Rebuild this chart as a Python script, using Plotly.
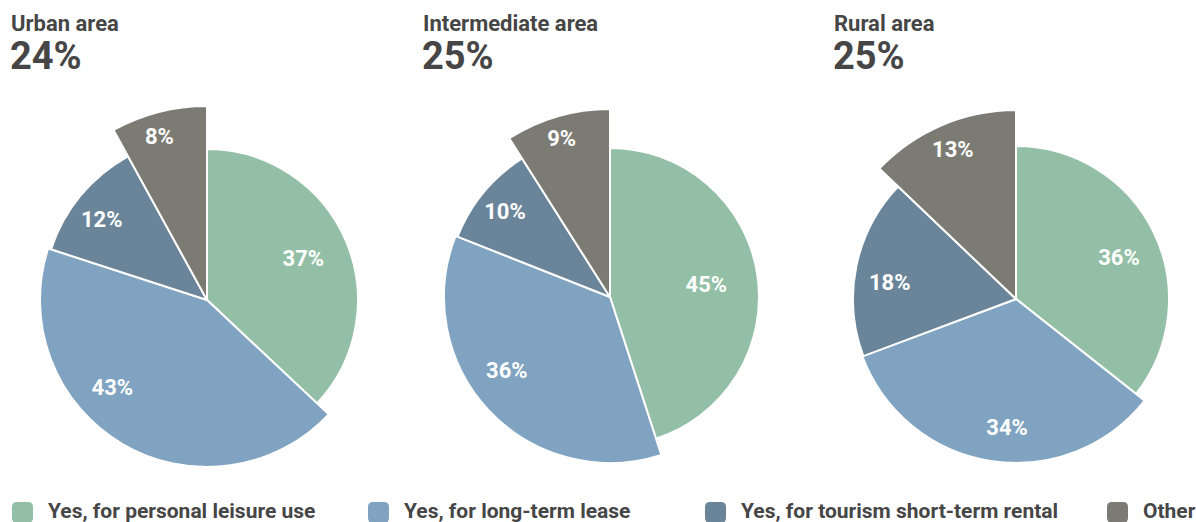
import plotly.graph_objects as go

# ---- data -------------------------------------------------------------
areas = ["Urban area", "Intermediate area", "Rural area"]
area_totals = ["24%", "25%", "25%"]
categories = [
    "Yes, for personal leisure use",
    "Yes, for long-term lease",
    "Yes, for tourism short-term rental",
    "Other",
]
urban = [37, 43, 12, 8]
intermediate = [45, 36, 10, 9]
rural = [36, 34, 18, 13]

# ---- styling ----------------------------------------------------------
colors = ["#93bfa6", "#7fa3c1", "#6a8499", "#7b7b73"]
# outer reach of each wedge (radial units == pixels here)
reach = {
    "Urban area": [151, 167, 164, 194],
    "Intermediate area": [149, 166, 164, 188],
    "Rural area": [153, 164, 163, 189],
}
# label placement: (angle offset in degrees, fraction of wedge reach)
label_pos = {
    "Urban area": [(1, 0.69), (16, 0.78), (-3, 0.80), (-2, 0.87)],
    "Intermediate area": [(3, 0.65), (7, 0.77), (-1, 0.82), (-1, 0.87)],
    "Rural area": [(5, 0.72), (-5, 0.80), (-5, 0.78), (0, 0.85)],
}
FONT = "Roboto"
DARK = "#464646"
W, H = 1196, 522
R_MAIN = 180                    # px radius of the full-circle frames
R_TOP = 200                     # px radius of the upper-left quadrant frames
centers = [(207, 300), (610, 297), (1016, 299)]   # px, from top-left
title_x = [9, 421, 832]

fig = go.Figure()
shares_all = [urban, intermediate, rural]


def axis_style():
    return dict(
        bgcolor="rgba(0,0,0,0)",
        angularaxis=dict(visible=False, direction="clockwise", rotation=90,
                         thetaunit="degrees"),
    )


n = 0
for i, (area, shares) in enumerate(zip(areas, shares_all)):
    main = "polar" if n == 0 else f"polar{n + 1}"
    top = f"polar{n + 2}"
    n += 2
    total = sum(shares)
    start = 0.0
    mids, widths = [], []
    for s in shares:
        w = 360.0 * s / total
        mids.append(start + w / 2)
        widths.append(w)
        start += w
    for k, cat in enumerate(categories):
        sub = top if k == 3 else main
        fig.add_trace(go.Barpolar(
            r=[reach[area][k]], theta=[mids[k]], width=[widths[k]],
            marker=dict(color=colors[k], line=dict(color="white", width=2)),
            name=cat, showlegend=False, subplot=sub,
            hovertemplate=f"{area}<br>{cat}: {shares[k]}%<extra></extra>",
        ))
        dth, frac = label_pos[area][k]
        fig.add_trace(go.Scatterpolar(
            r=[reach[area][k] * frac], theta=[mids[k] + dth], mode="text",
            text=[f"{shares[k]}%"],
            textfont=dict(family=FONT, size=22, color="white", weight="bold"),
            cliponaxis=False, showlegend=False, hoverinfo="skip", subplot=sub,
        ))

    cx, cy = centers[i]
    fig.update_layout({main: dict(
        domain=dict(x=[(cx - R_MAIN) / W, min(cx + R_MAIN, W) / W],
                    y=[(H - cy - R_MAIN) / H, (H - cy + R_MAIN) / H]),
        radialaxis=dict(range=[0, R_MAIN], visible=False),
        **axis_style(),
    )})
    # upper-left quadrant frame with a longer reach for the "Other" wedge
    fig.update_layout({top: dict(
        domain=dict(x=[(cx - R_TOP) / W, cx / W],
                    y=[(H - cy) / H, (H - cy + R_TOP) / H]),
        sector=[90, 180],
        radialaxis=dict(range=[0, R_TOP], visible=False),
        **axis_style(),
    )})

    fig.add_annotation(x=title_x[i] / W, y=1 - 9 / H, xref="paper", yref="paper",
                       xanchor="left", yanchor="top", showarrow=False,
                       text=f"<b>{area}</b>",
                       font=dict(family=FONT, size=22, color=DARK))
    fig.add_annotation(x=(title_x[i] - 1) / W, y=1 - 32 / H, xref="paper", yref="paper",
                       xanchor="left", yanchor="top", showarrow=False,
                       text=f"<b>{area_totals[i]}</b>",
                       font=dict(family=FONT, size=38, color=DARK))


# ---- legend drawn as rounded swatches + labels ------------------------
def rounded_rect(x0, y0, x1, y1, rad):
    """SVG path of a rounded rectangle in paper units (px given)."""
    px = lambda v: v / W
    py = lambda v: (H - v) / H
    return (
        f"M{px(x0 + rad)},{py(y0)} L{px(x1 - rad)},{py(y0)} "
        f"Q{px(x1)},{py(y0)} {px(x1)},{py(y0 + rad)} "
        f"L{px(x1)},{py(y1 - rad)} Q{px(x1)},{py(y1)} {px(x1 - rad)},{py(y1)} "
        f"L{px(x0 + rad)},{py(y1)} Q{px(x0)},{py(y1)} {px(x0)},{py(y1 - rad)} "
        f"L{px(x0)},{py(y0 + rad)} Q{px(x0)},{py(y0)} {px(x0 + rad)},{py(y0)} Z"
    )


legend_x = [12, 368, 705, 1107]
for k, cat in enumerate(categories):
    lx = legend_x[k]
    fig.add_shape(type="path", xref="paper", yref="paper",
                  path=rounded_rect(lx, 502, lx + 21, 523, 5),
                  fillcolor=colors[k], line=dict(width=0), layer="above")
    fig.add_annotation(x=(lx + 34) / W, y=(H - 511) / H, xref="paper", yref="paper",
                       xanchor="left", yanchor="middle", showarrow=False,
                       text=f"<b>{cat}</b>",
                       font=dict(family=FONT, size=21, color=DARK))

fig.update_layout(
    width=W, height=H,
    margin=dict(l=0, r=0, t=0, b=0),
    paper_bgcolor="white", plot_bgcolor="white",
    showlegend=False,
)

fig.write_html("out.html")
